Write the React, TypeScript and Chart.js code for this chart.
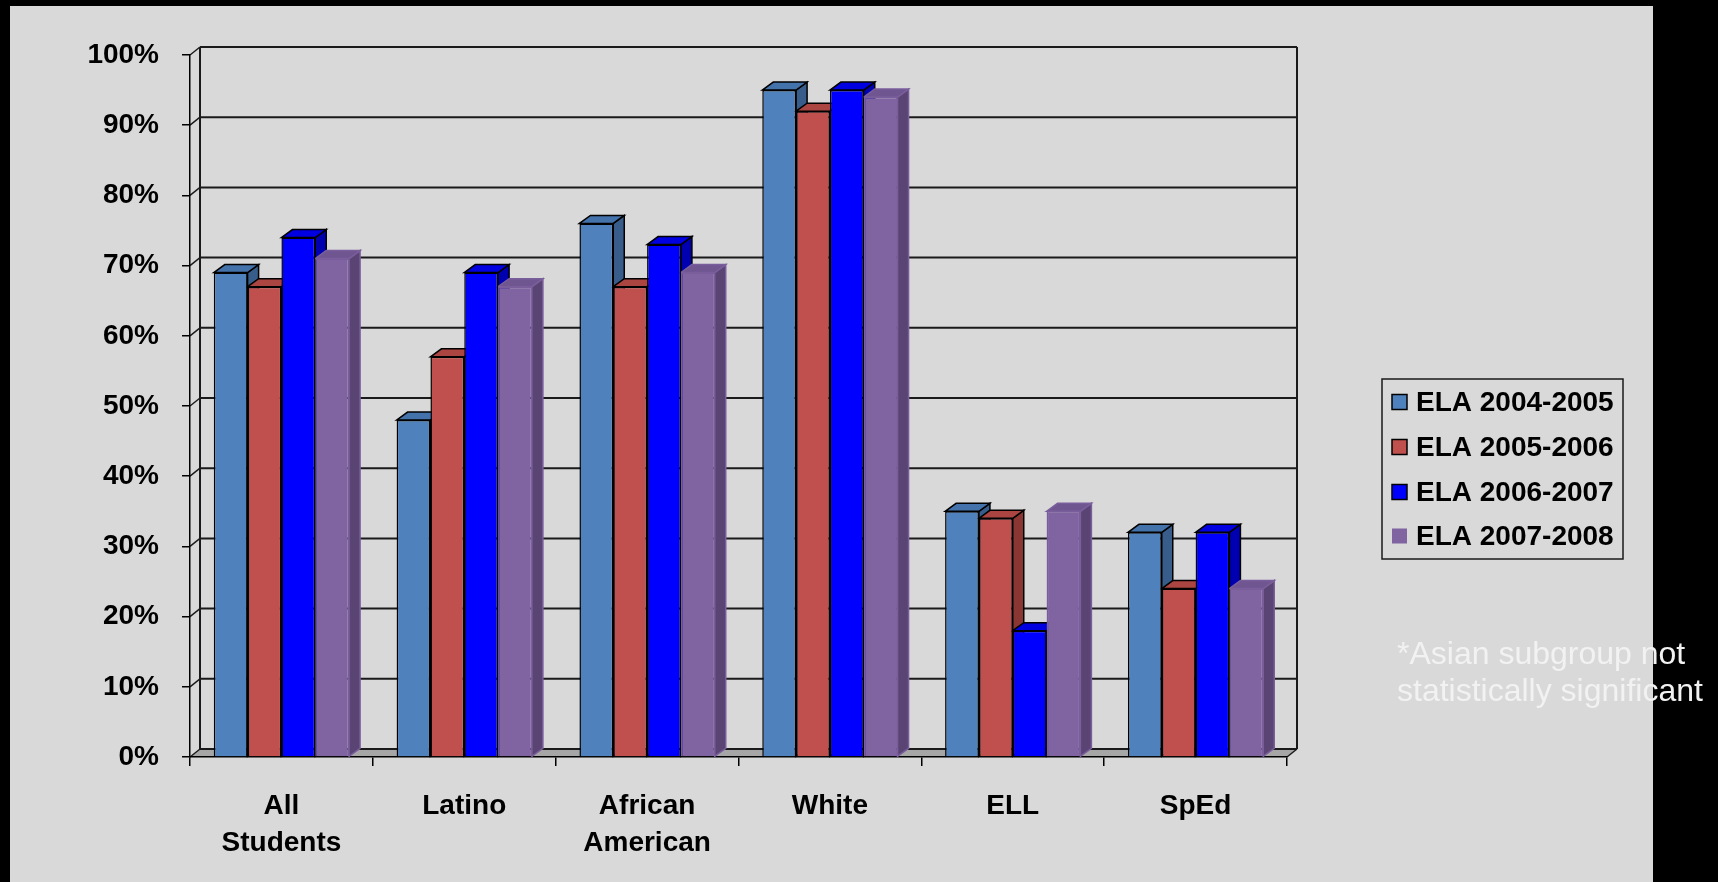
import React, { useEffect, useRef } from "react";
import { Chart, registerables } from "chart.js";

Chart.register(...registerables);

// ---- data ----
const categories: (string | string[])[] = [
  ["All", "Students"],
  "Latino",
  ["African", "American"],
  "White",
  "ELL",
  "SpEd",
];
const seriesLabels = ["ELA 2004-2005", "ELA 2005-2006", "ELA 2006-2007", "ELA 2007-2008"];
const ela0405 = [69, 48, 76, 95, 35, 32];
const ela0506 = [67, 57, 67, 92, 34, 24];
const ela0607 = [74, 69, 73, 95, 18, 32];
const ela0708 = [71, 67, 69, 94, 35, 24];
const yTickValues = [0, 10, 20, 30, 40, 50, 60, 70, 80, 90, 100];
const footnoteLines = ["*Asian subgroup not", "statistically significant"];

// ---- styles ----
const W = 1718;
const H = 882;
const FONT = '"Liberation Sans", Arial, sans-serif';
const frontColors = ["#4f81bd", "#c0504d", "#0000ff", "#8064a2"];
const topColors = ["#4472aa", "#aa4542", "#0000e0", "#6f5690"];
const sideColors = ["#385d8a", "#8a3633", "#0000b0", "#594473"];
const edgeColors = ["#000000", "#000000", "#000000", "#7a5e9c"];
const BAR_DX = 11;
const BAR_DY = 8;
const WALL_DX = 10;
const WALL_DY = 8;

function poly(ctx: CanvasRenderingContext2D, pts: number[][], fill: string | null, stroke: string | null, lw = 1.5) {
  ctx.beginPath();
  ctx.moveTo(pts[0][0], pts[0][1]);
  for (let i = 1; i < pts.length; i++) ctx.lineTo(pts[i][0], pts[i][1]);
  ctx.closePath();
  if (fill) {
    ctx.fillStyle = fill;
    ctx.fill();
  }
  if (stroke) {
    ctx.strokeStyle = stroke;
    ctx.lineWidth = lw;
    ctx.lineJoin = "miter";
    ctx.stroke();
  }
}

function line(ctx: CanvasRenderingContext2D, x1: number, y1: number, x2: number, y2: number, color = "#000", lw = 1.5) {
  ctx.beginPath();
  ctx.moveTo(x1, y1);
  ctx.lineTo(x2, y2);
  ctx.strokeStyle = color;
  ctx.lineWidth = lw;
  ctx.stroke();
}

// Background panel, back wall, side wall and floor of the 3-D box
const framePlugin = {
  id: "frame3d",
  beforeDraw(chart: any) {
    const { ctx, chartArea } = chart;
    const yScale = chart.scales.y;
    const { left, right, bottom } = chartArea;
    ctx.save();
    ctx.fillStyle = "#000000";
    ctx.fillRect(0, 0, W, H);
    ctx.fillStyle = "#d9d9d9";
    ctx.fillRect(10, 6, 1643, H - 6);

    const yTop = yScale.getPixelForValue(100);
    // floor
    poly(
      ctx,
      [
        [left, bottom],
        [right, bottom],
        [right + WALL_DX, bottom - WALL_DY],
        [left + WALL_DX, bottom - WALL_DY],
      ],
      "#a6a6a6",
      null
    );
    // back-wall gridlines and side-wall connectors
    for (const v of yTickValues) {
      const yf = yScale.getPixelForValue(v);
      line(ctx, left + WALL_DX, yf - WALL_DY, right + WALL_DX, yf - WALL_DY, "#1a1a1a", 2);
      line(ctx, left, yf, left + WALL_DX, yf - WALL_DY, "#1a1a1a", 1.5);
    }
    // back wall edges
    line(ctx, left + WALL_DX, yTop - WALL_DY, left + WALL_DX, bottom - WALL_DY, "#1a1a1a", 2);
    line(ctx, right + WALL_DX, yTop - WALL_DY, right + WALL_DX, bottom - WALL_DY, "#1a1a1a", 2);
    line(ctx, right, bottom, right + WALL_DX, bottom - WALL_DY, "#1a1a1a", 1.5);
    ctx.restore();
  },
  // side and top faces of each column, painted left to right
  beforeDatasetsDraw(chart: any) {
    const { ctx } = chart;
    const n = chart.data.labels.length;
    ctx.save();
    for (let i = 0; i < n; i++) {
      chart.data.datasets.forEach((_ds: any, d: number) => {
        const meta = chart.getDatasetMeta(d);
        const el = meta.data[i];
        if (!el) return;
        const { x, y, base, width } = el.getProps(["x", "y", "base", "width"], true);
        const l = x - width / 2;
        const r = x + width / 2;
        poly(
          ctx,
          [
            [r, y],
            [r + BAR_DX, y - BAR_DY],
            [r + BAR_DX, base - BAR_DY],
            [r, base],
          ],
          sideColors[d],
          edgeColors[d]
        );
        poly(
          ctx,
          [
            [l, y],
            [l + BAR_DX, y - BAR_DY],
            [r + BAR_DX, y - BAR_DY],
            [r, y],
          ],
          topColors[d],
          edgeColors[d]
        );
      });
    }
    ctx.restore();
  },
  // legend box and footnote
  afterDraw(chart: any) {
    const { ctx } = chart;
    ctx.save();
    ctx.strokeStyle = "#1a1a1a";
    ctx.lineWidth = 1.5;
    ctx.strokeRect(1382, 379, 241, 180);
    const rowY = [402, 447, 492, 536];
    ctx.font = `bold 28px ${FONT}`;
    ctx.textBaseline = "middle";
    ctx.textAlign = "left";
    chart.data.datasets.forEach((ds: any, d: number) => {
      const cy = rowY[d];
      ctx.fillStyle = frontColors[d];
      ctx.fillRect(1392, cy - 7.5, 15, 15);
      if (d < 3) {
        ctx.strokeStyle = "#000";
        ctx.lineWidth = 1.5;
        ctx.strokeRect(1392, cy - 7.5, 15, 15);
      }
      ctx.fillStyle = "#000";
      ctx.fillText(ds.label, 1416, cy + 1);
    });
    ctx.font = `32px ${FONT}`;
    ctx.fillStyle = "#f2f2f2";
    ctx.textBaseline = "alphabetic";
    ctx.fillText(footnoteLines[0], 1397, 664);
    ctx.fillText(footnoteLines[1], 1397, 701);
    ctx.restore();
  },
};

const seriesData = [ela0405, ela0506, ela0607, ela0708];

export default function App() {
  const canvasRef = useRef<HTMLCanvasElement | null>(null);

  useEffect(() => {
    if (!canvasRef.current) return;
    const chart = new Chart(canvasRef.current, {
      type: "bar",
      data: {
        labels: categories,
        datasets: seriesData.map((values, d) => ({
          label: seriesLabels[d],
          data: values,
          backgroundColor: frontColors[d],
          borderColor: edgeColors[d],
          borderWidth: 1.5,
          borderSkipped: "bottom",
          categoryPercentage: 0.74,
          barPercentage: 1.0,
        })),
      },
      options: {
        responsive: false,
        animation: false,
        devicePixelRatio: 1,
        layout: { padding: { left: 0, top: 55, right: W - 1287, bottom: 0 } },
        plugins: {
          legend: { display: false },
          tooltip: { enabled: false },
        },
        scales: {
          x: {
            offset: true,
            grid: {
              offset: true,
              drawOnChartArea: false,
              drawTicks: true,
              tickLength: 9,
              color: "#000",
              lineWidth: 1.5,
            },
            border: { display: true, color: "#000", width: 1.5 },
            ticks: {
              color: "#000",
              font: { family: FONT, size: 28, weight: "bold", lineHeight: 1.32 },
              padding: 22,
              maxRotation: 0,
              autoSkip: false,
            },
            afterFit(scale: any) {
              scale.height = H - 757;
            },
          },
          y: {
            min: 0,
            max: 100,
            afterBuildTicks(scale: any) {
              scale.ticks = yTickValues.map((v) => ({ value: v }));
            },
            grid: {
              drawOnChartArea: false,
              drawTicks: true,
              tickLength: 8,
              color: "#000",
              lineWidth: 1.5,
            },
            border: { display: true, color: "#000", width: 1.5 },
            ticks: {
              color: "#000",
              font: { family: FONT, size: 28, weight: "bold" },
              padding: 23,
              callback: (v: any) => `${v}%`,
            },
            afterFit(scale: any) {
              scale.width = 190;
            },
          },
        },
      },
      plugins: [framePlugin],
    });
    return () => chart.destroy();
  }, []);

  return (
    <div style={{ position: "fixed", left: 0, top: 0, width: W, height: H, background: "#000" }}>
      <canvas ref={canvasRef} width={W} height={H} style={{ display: "block", width: W, height: H }} />
    </div>
  );
}
